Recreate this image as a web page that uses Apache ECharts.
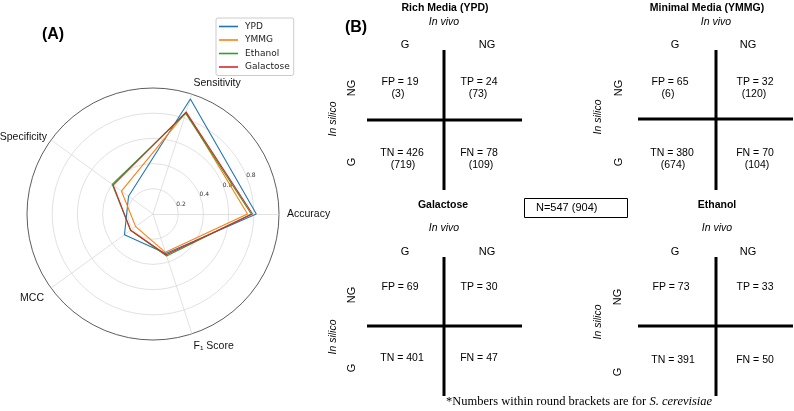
<!DOCTYPE html>
<html><head><meta charset="utf-8">
<script src="https://cdn.jsdelivr.net/npm/echarts@6/dist/echarts.min.js"></script>
<style>html,body{margin:0;padding:0;background:#fff}#c{width:794px;height:411px}</style>
</head><body><div id="c"></div>
<script>
// ---- Radar data (panel A) ----
const metrics = ['Accuracy', 'Sensitivity', 'Specificity', 'MCC', 'F\u2081 Score'];
const seriesNames = ['YPD', 'YMMG', 'Ethanol', 'Galactose'];
const ypd = [0.82, 0.96, 0.24, 0.28, 0.33];
const ymmg = [0.75, 0.85, 0.31, 0.17, 0.32];
const ethanol = [0.78, 0.84, 0.40, 0.22, 0.35];
const galactose = [0.79, 0.85, 0.39, 0.22, 0.34];
const radialTicks = [0.2, 0.4, 0.6, 0.8];

// ---- Confusion matrices (panel B) ----
const panelTitles = ['Rich Media (YPD)', 'Minimal Media (YMMG)', 'Galactose', 'Ethanol'];
const fpVals = [19, 65, 69, 73];
const tpVals = [24, 32, 30, 33];
const tnVals = [426, 380, 401, 391];
const fnVals = [78, 70, 47, 50];
const fpCer = [3, 6, null, null];
const tpCer = [73, 120, null, null];
const tnCer = [719, 674, null, null];
const fnCer = [109, 104, null, null];
const nTotal = 547;
const nCer = 904;

const colors = ['#1f77b4', '#ff7f0e', '#2ca02c', '#d62728'];
const seriesData = [ypd, ymmg, ethanol, galactose];

const layouts = [
  {vx:444, hy:120, tX:445, tY:8, vX:444, vY:22, colY:45, gX:405, ngX:487, rX:352, rNG:88, rG:162, sX:333, sY:119, vT:50, vB:190, hL:367, hR:522, cL:400, cR:479, cT:82, cB:153},
  {vx:716, hy:119, tX:707, tY:8, vX:716, vY:22, colY:45, gX:675, ngX:748, rX:619, rNG:88, rG:162, sX:598, sY:117, vT:50, vB:190, hL:638, hR:793, cL:670, cR:755, cT:82, cB:153},
  {vx:444, hy:326, tX:443, tY:205, vX:444, vY:228, colY:252, gX:405, ngX:487, rX:352, rNG:295, rG:368, sX:333, sY:337, vT:257, vB:396, hL:367, hR:522, cL:400, cR:479, cT:287, cB:358},
  {vx:716, hy:326, tX:717, tY:205, vX:717, vY:228, colY:252, gX:675, ngX:748, rX:618, rNG:297, rG:372, sX:598, sY:322, vT:257, vB:396, hL:638, hR:793, cL:671, cR:755, cT:287, cB:360}
];

// per-axis-name nudges (rich padding) to mimic matplotlib label placement
const namePads = [[0, 0, 0, 3], [0, 0, 12, 0], [0, 0, 0, 0], [14, 3, 0, 0], [16, 0, 0, 0]];

const SANS = 'Liberation Sans, Arial, sans-serif';
function txt(x, y, text, opt) {
  opt = opt || {};
  return {
    type: 'text', x: x, y: y, rotation: opt.rot || 0, silent: true,
    style: {
      text: text, align: opt.align || 'center', verticalAlign: 'middle',
      font: (opt.style || 'normal') + ' ' + (opt.weight || 'normal') + ' ' + (opt.size || 10.5) + 'px ' + (opt.family || SANS),
      fill: opt.fill || '#000'
    }
  };
}
function line(x1, y1, x2, y2, w) {
  return {type: 'line', silent: true, shape: {x1: x1, y1: y1, x2: x2, y2: y2}, style: {stroke: '#000', lineWidth: w || 3}};
}

const graphics = [];
graphics.push(txt(53, 35, '(A)', {weight: 'bold', size: 16}));
graphics.push(txt(356, 28, '(B)', {weight: 'bold', size: 16}));
layouts.forEach(function (L, i) {
  graphics.push(txt(L.tX, L.tY, panelTitles[i], {weight: 'bold'}));
  graphics.push(txt(L.vX, L.vY, 'In vivo', {style: 'italic'}));
  graphics.push(txt(L.gX, L.colY, 'G', {size: 11}));
  graphics.push(txt(L.ngX, L.colY, 'NG', {size: 11}));
  graphics.push(txt(L.rX, L.rNG, 'NG', {size: 11, rot: Math.PI / 2}));
  graphics.push(txt(L.rX, L.rG, 'G', {size: 11, rot: Math.PI / 2}));
  graphics.push(txt(L.sX, L.sY, 'In silico', {style: 'italic', rot: Math.PI / 2}));
  graphics.push(line(L.vx, L.vT, L.vx, L.vB));
  graphics.push(line(L.hL, L.hy, L.hR, L.hy));
  graphics.push(txt(L.cL, L.cT, 'FP = ' + fpVals[i]));
  graphics.push(txt(L.cR, L.cT, 'TP = ' + tpVals[i]));
  graphics.push(txt(L.cL + 2, L.cB, 'TN = ' + tnVals[i]));
  graphics.push(txt(L.cR, L.cB, 'FN = ' + fnVals[i]));
  if (fpCer[i] != null) {
    graphics.push(txt(L.cL - 2, L.cT + 12, '(' + fpCer[i] + ')'));
    graphics.push(txt(L.cR - 1, L.cT + 12, '(' + tpCer[i] + ')'));
    graphics.push(txt(L.cL + 3, L.cB + 12, '(' + tnCer[i] + ')'));
    graphics.push(txt(L.cR + 2, L.cB + 12, '(' + fnCer[i] + ')'));
  }
});
graphics.push({type: 'rect', silent: true, shape: {x: 524.5, y: 198.5, width: 103, height: 19}, style: {fill: 'none', stroke: '#000', lineWidth: 1}});
graphics.push(txt(536, 208, 'N=' + nTotal + ' (' + nCer + ')', {align: 'left', size: 11}));
graphics.push({
  type: 'text', x: 446, y: 402, silent: true,
  style: {
    text: '*Numbers within round brackets are for {i|S. cerevisiae}',
    align: 'left', verticalAlign: 'middle',
    font: 'normal normal 12.5px Liberation Serif, Times New Roman, serif', fill: '#000',
    rich: {i: {fontStyle: 'italic', fontFamily: 'Liberation Serif', fontSize: 12.5, fill: '#000'}}
  }
});

const nameRich = {};
namePads.forEach(function (p, i) {
  nameRich['k' + i] = {padding: p, fontFamily: SANS, fontSize: 10.5, color: '#111'};
});

const chart = echarts.init(document.getElementById('c'), null, {renderer: 'canvas'});
chart.setOption({
  animation: false,
  backgroundColor: '#fff',
  color: colors,
  legend: {
    data: seriesNames, orient: 'vertical', left: 216, top: 18,
    icon: 'rect', itemWidth: 19, itemHeight: 1.6, itemGap: 4.5,
    padding: [4, 4, 4, 3],
    borderColor: '#cccccc', borderWidth: 1, borderRadius: 2,
    textStyle: {fontFamily: 'DejaVu Sans', fontSize: 9, color: '#222', padding: [0, 0, 0, 2]}
  },
  radar: {
    center: [153, 214], radius: 126, startAngle: 0, shape: 'circle',
    splitNumber: 5,
    indicator: metrics.map(function (m) { return {name: m, min: 0, max: 1}; }),
    nameGap: 5,
    axisName: {
      color: '#111', fontFamily: SANS, fontSize: 10.5,
      formatter: function (name) { return '{k' + metrics.indexOf(name) + '|' + name + '}'; },
      rich: nameRich
    },
    splitArea: {show: false},
    axisLine: {lineStyle: {color: '#d9d9d9', width: 0.8}},
    splitLine: {lineStyle: {color: ['#d9d9d9', '#d9d9d9', '#d9d9d9', '#d9d9d9', '#d9d9d9', '#333'], width: 0.8}}
  },
  polar: {center: [153, 214], radius: 126},
  angleAxis: {type: 'value', min: 0, max: 360, startAngle: 22.5, show: false},
  radiusAxis: {
    type: 'value', min: 0, max: 1, interval: 0.2,
    axisLine: {show: false}, axisTick: {show: false}, splitLine: {show: false},
    axisLabel: {
      fontSize: 6, color: '#333', fontFamily: 'DejaVu Sans', margin: 0, align: 'left',
      formatter: function (v) { return radialTicks.indexOf(Math.round(v * 10) / 10) >= 0 ? v.toFixed(1) : ''; }
    }
  },
  series: [{
    type: 'radar', symbol: 'none',
    data: seriesData.map(function (d, i) {
      return {name: seriesNames[i], value: d, lineStyle: {color: colors[i], width: 1.1}, itemStyle: {color: colors[i]}};
    })
  }],
  graphic: graphics
});
</script></body></html>
